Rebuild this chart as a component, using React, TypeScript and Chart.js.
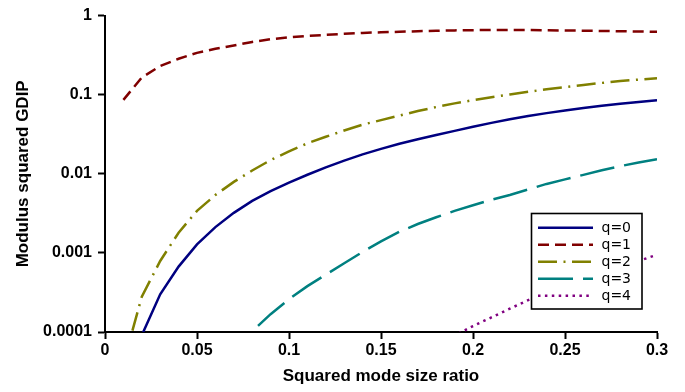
import React, { useEffect, useRef } from "react";
import { Chart, registerables } from "chart.js";

Chart.register(...registerables);

const xValues = [
  0.01, 0.02, 0.03, 0.04, 0.05, 0.06, 0.07, 0.08, 0.09, 0.1,
  0.11, 0.12, 0.13, 0.14, 0.15, 0.16, 0.17, 0.18, 0.19, 0.2,
  0.21, 0.22, 0.23, 0.24, 0.25, 0.26, 0.27, 0.28, 0.29, 0.3,
];

const seriesLabels = ["q=0", "q=1", "q=2", "q=3", "q=4"];

const q0 = [
  null, 0.000091, 0.0003, 0.000671, 0.00128, 0.00212, 0.00321, 0.00454, 0.00605, 0.00773,
  0.00973, 0.01205, 0.01469, 0.01758, 0.02065, 0.02393, 0.02735, 0.03097, 0.03491, 0.03936,
  0.04406, 0.04887, 0.0537, 0.05848, 0.06324, 0.06792, 0.07244, 0.07674, 0.08091, 0.08492,
];

const q1 = [
  0.086, 0.165, 0.23, 0.285, 0.338, 0.38, 0.42, 0.465, 0.503, 0.53,
  0.553, 0.571, 0.588, 0.604, 0.615, 0.625, 0.635, 0.643, 0.65, 0.655,
  0.658, 0.658, 0.656, 0.652, 0.648, 0.645, 0.64, 0.635, 0.63, 0.625,
];

const q2 = [
  0.00004, 0.00028, 0.00079, 0.0018, 0.0034, 0.0054, 0.0079, 0.011, 0.0149, 0.0192,
  0.0243, 0.0294, 0.0353, 0.0418, 0.0477, 0.0544, 0.0622, 0.0698, 0.0777, 0.0852,
  0.093, 0.1007, 0.1087, 0.1175, 0.125, 0.133, 0.141, 0.149, 0.155, 0.161,
];

const q3 = [
  null, null, null, null, null, null, 0.00004, 0.000102, 0.000168, 0.00026,
  0.00038, 0.00053, 0.00074, 0.00103, 0.0014, 0.00185, 0.00232, 0.00282, 0.0034, 0.004,
  0.0047, 0.0054, 0.00635, 0.00745, 0.0085, 0.0097, 0.0111, 0.0125, 0.0139, 0.0153,
];

const q4 = [
  null, null, null, null, null, null, null, null, null, null,
  null, null, null, null, null, null, null, 0.00006, 0.00009, 0.000119,
  0.000153, 0.000197, 0.000253, 0.00031, 0.00038, 0.00046, 0.00055, 0.00066, 0.00079, 0.00095,
];

const xTickValues = [0, 0.05, 0.1, 0.15, 0.2, 0.25, 0.3];
const xTickLabels = ["0", "0.05", "0.1", "0.15", "0.2", "0.25", "0.3"];
const yTickValues = [0.0001, 0.001, 0.01, 0.1, 1];
const yTickLabels = ["0.0001", "0.001", "0.01", "0.1", "1"];

const seriesValues = [q0, q1, q2, q3, q4];
const seriesColors = ["#000080", "#800000", "#808000", "#008080", "#800080"];
const seriesDashes: number[][] = [[], [11, 6], [19, 6.5, 2, 6.5], [35, 10], [2.5, 4.4]];

const boxLegend = {
  id: "boxLegend",
  afterDatasetsDraw(chart: any) {
    const ctx = chart.ctx as CanvasRenderingContext2D;
    const left = 531.5, top = 213.5, w = 110.5, h = 95.5;
    ctx.save();
    ctx.fillStyle = "#ffffff";
    ctx.fillRect(left, top, w, h);
    ctx.setLineDash([]);
    ctx.lineWidth = 1.6;
    ctx.strokeStyle = "#000000";
    ctx.strokeRect(left, top, w, h);
    chart.data.datasets.forEach((ds: any, i: number) => {
      const y = 227.7 + i * 17;
      ctx.beginPath();
      ctx.setLineDash(ds.borderDash || []);
      ctx.lineCap = "butt";
      ctx.strokeStyle = ds.borderColor;
      ctx.lineWidth = ds.borderWidth;
      ctx.moveTo(538, y);
      ctx.lineTo(593, y);
      ctx.stroke();
      ctx.setLineDash([]);
      ctx.fillStyle = "#000000";
      ctx.font = '14px "DejaVu Sans"';
      ctx.textBaseline = "middle";
      ctx.textAlign = "left";
      ctx.fillText(ds.label, 601.5, y + 0.5);
    });
    ctx.restore();
  },
};

export default function App() {
  const canvasRef = useRef<HTMLCanvasElement | null>(null);

  useEffect(() => {
    const canvas = canvasRef.current;
    if (!canvas) return;
    const datasets = seriesLabels.map((label, i) => ({
      label,
      data: xValues.map((x, j) => ({ x, y: seriesValues[i][j] })),
      borderColor: seriesColors[i],
      backgroundColor: seriesColors[i],
      borderWidth: 2.5,
      borderDash: seriesDashes[i],
      borderCapStyle: "butt" as const,
      pointRadius: 0,
      tension: 0,
      fill: false,
    }));

    const chart = new Chart(canvas, {
      type: "line",
      data: { datasets },
      options: {
        animation: false,
        responsive: false,
        maintainAspectRatio: false,
        layout: { padding: { left: 0, top: 12, right: 28, bottom: 0 } },
        plugins: {
          legend: { display: false },
          tooltip: { enabled: false },
        },
        scales: {
          x: {
            type: "linear",
            min: 0,
            max: 0.3,
            afterFit: (s: any) => { s.height = 60; },
            afterBuildTicks: (s: any) => { s.ticks = xTickValues.map((v) => ({ value: v })); },
            ticks: {
              color: "#000",
              padding: 2,
              maxRotation: 0,
              autoSkip: false,
              font: { family: "'Liberation Sans', Arial, sans-serif", size: 16, weight: "bold" },
              callback: (_v: any, i: number) => xTickLabels[i],
            },
            grid: {
              drawOnChartArea: false,
              drawTicks: true,
              tickLength: 7,
              tickColor: "#000",
              tickWidth: 2,
            },
            border: { display: true, color: "#000", width: 2 },
            title: {
              display: true,
              text: "Squared mode size ratio",
              color: "#000",
              font: { family: "'Liberation Sans', Arial, sans-serif", size: 17, weight: "bold" },
              padding: { top: 0, bottom: 5 },
            },
          },
          y: {
            type: "logarithmic",
            min: 0.0001,
            max: 1,
            afterFit: (s: any) => { s.width = 105; },
            afterBuildTicks: (s: any) => { s.ticks = yTickValues.map((v) => ({ value: v })); },
            ticks: {
              color: "#000",
              padding: 6,
              autoSkip: false,
              font: { family: "'Liberation Sans', Arial, sans-serif", size: 16, weight: "bold" },
              callback: (_v: any, i: number) => yTickLabels[i],
            },
            grid: {
              drawOnChartArea: false,
              drawTicks: true,
              tickLength: 7,
              tickColor: "#000",
              tickWidth: 2,
            },
            border: { display: true, color: "#000", width: 2 },
            title: {
              display: true,
              text: "Modulus squared GDIP",
              color: "#000",
              font: { family: "'Liberation Sans', Arial, sans-serif", size: 17, weight: "bold" },
              padding: { top: 13, bottom: 0 },
            },
          },
        },
      },
      plugins: [boxLegend],
    });

    return () => chart.destroy();
  }, []);

  return (
    <div style={{ position: "fixed", left: 0, top: 0, width: 685, height: 392, background: "#fff" }}>
      <canvas ref={canvasRef} width={685} height={392} style={{ display: "block", width: 685, height: 392 }} />
    </div>
  );
}
